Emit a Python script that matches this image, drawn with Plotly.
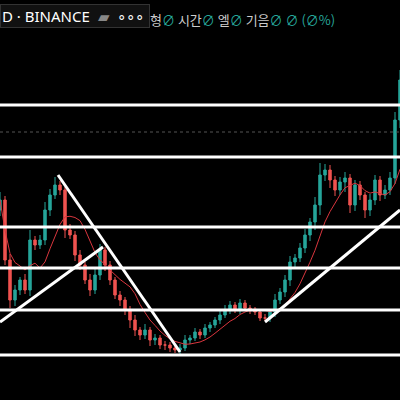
import plotly.graph_objects as go
import pandas as pd

# candle closes (price units = 400 - pixel row)
close_px = [200, 260, 300, 290, 280, 290, 240, 245, 240, 210, 195, 185, 190, 230, 235, 255,
            265, 280, 290, 275, 250, 265, 280, 295, 300, 310, 320, 330, 335, 330, 340, 338,
            345, 345, 348, 350, 348, 340, 338, 332, 335, 328, 325, 320, 315, 310, 305, 310,
            303, 308, 310, 312, 318, 318, 312, 300, 292, 280, 262, 258, 248, 235, 222, 205,
            175, 170, 180, 190, 182, 178, 205, 185, 195, 210, 200, 180, 195, 190, 178, 120, 80]
wick_up = [8, 4, 6, 5, 3, 6, 10, 4, 5, 8, 6, 8, 4, 3, 6, 4, 5, 3, 6, 8, 6, 3, 4, 3, 4, 3, 4,
           5, 3, 6, 3, 4, 3, 4, 3, 3, 4, 5, 3, 4, 3, 4, 3, 3, 4, 5, 4, 3, 4, 3, 3, 3, 3, 4,
           3, 6, 4, 5, 6, 4, 5, 6, 4, 8, 12, 6, 5, 4, 5, 6, 4, 5, 4, 3, 6, 5, 4, 5, 6, 8, 10]
wick_dn = [6, 5, 8, 6, 5, 4, 6, 5, 4, 5, 6, 4, 5, 8, 4, 6, 5, 4, 6, 4, 5, 6, 5, 4, 6, 5, 8,
           6, 5, 4, 6, 5, 4, 5, 4, 3, 4, 3, 4, 3, 4, 3, 4, 3, 4, 3, 4, 3, 4, 3, 4, 3, 3, 3,
           4, 5, 4, 5, 6, 5, 4, 5, 6, 8, 10, 6, 8, 6, 5, 10, 8, 6, 5, 8, 6, 5, 6, 4, 5, 6, 8]
x_pos = [i * 5 for i in range(len(close_px))]

levels = [105, 157, 227, 268, 310, 355]
dotted_level = 132
trendlines = [((58, 175), (180, 352)), ((0, 322), (103, 247)), ((265, 322), (400, 210))]

closes = [400 - c for c in close_px]
opens = [closes[0] - 10] + closes[:-1]
highs = [max(o, c) + w for o, c, w in zip(opens, closes, wick_up)]
lows = [min(o, c) - w for o, c, w in zip(opens, closes, wick_dn)]
ma = pd.Series(closes).rolling(8, min_periods=1).mean()

fig = go.Figure()
for lv in levels:
    fig.add_hline(y=400 - lv, line=dict(color="white", width=3))
fig.add_hline(y=400 - dotted_level, line=dict(color="#555555", width=1, dash="dot"))

fig.add_trace(go.Candlestick(
    x=x_pos, open=opens, high=highs, low=lows, close=closes,
    increasing=dict(line=dict(color="#26a69a", width=1), fillcolor="#26a69a"),
    decreasing=dict(line=dict(color="#ef5350", width=1), fillcolor="#ef5350"),
    whiskerwidth=0, showlegend=False))
fig.add_trace(go.Scatter(x=x_pos, y=ma, mode="lines", line=dict(color="#d9363e", width=1),
                         showlegend=False, hoverinfo="skip"))

for (x0, y0), (x1, y1) in trendlines:
    fig.add_shape(type="line", x0=x0, y0=400 - y0, x1=x1, y1=400 - y1,
                  line=dict(color="white", width=3))

g = "<span style='color:#26a69a'>∅</span>"
fig.add_annotation(x=0, y=1, xref="paper", yref="paper", xanchor="left", yanchor="top",
                   text="D · BINANCE  <span style='color:#888'>▰</span>  ∘∘∘ ",
                   showarrow=False, font=dict(color="white", size=15, family="Noto Sans"),
                   bgcolor="#111", bordercolor="#333", borderwidth=1, yshift=-4)
fig.add_annotation(x=148, y=1, xref="x", yref="paper", xanchor="left", yanchor="top",
                   text="형" + g + " 시간" + g + " 엘" + g + " 기음" + g + " " + g
                        + " <span style='color:#26a69a'>(∅%)</span>",
                   showarrow=False, yshift=-8,
                   font=dict(color="#cccccc", size=13, family="Noto Sans CJK KR"))

fig.update_layout(width=400, height=400, margin=dict(l=0, r=0, t=0, b=0),
                  paper_bgcolor="black", plot_bgcolor="black",
                  xaxis=dict(range=[0, 400], visible=False, rangeslider=dict(visible=False)),
                  yaxis=dict(range=[0, 400], visible=False))
fig.write_html("out.html", config={"displayModeBar": False},
               post_script="document.body.style.margin='0';document.body.style.background='black';")
